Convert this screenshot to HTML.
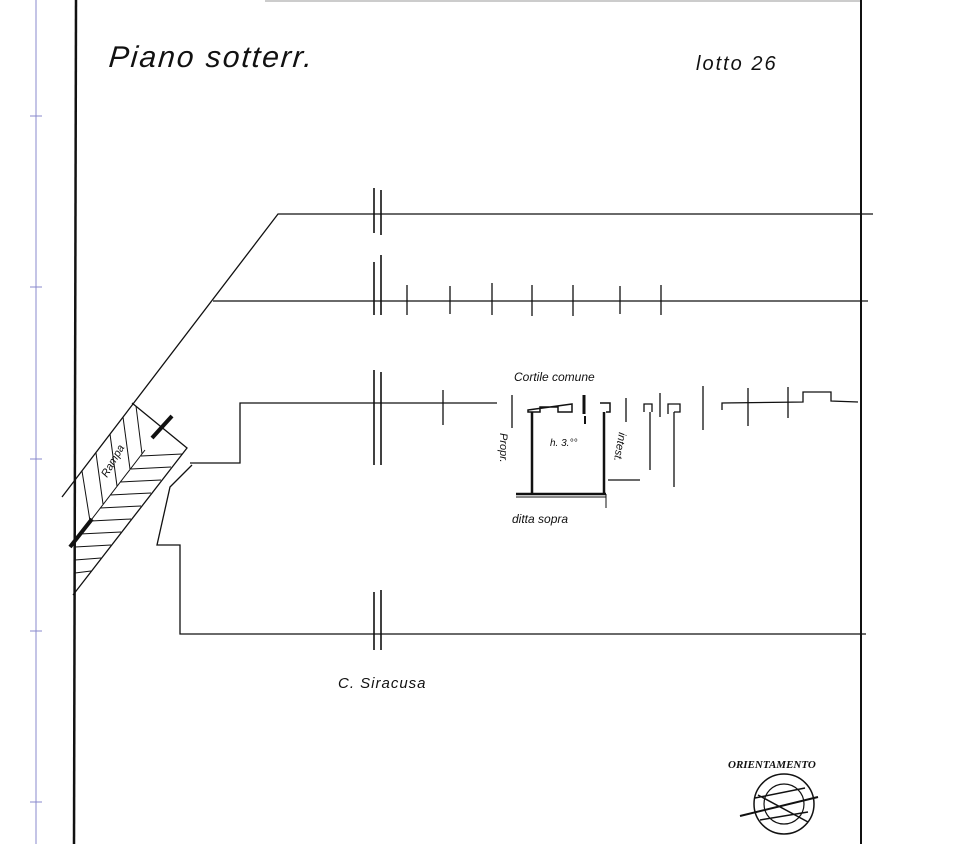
<!DOCTYPE html>
<html><head><meta charset="utf-8"><style>
html,body{margin:0;padding:0;background:#fff;}
svg{display:block;}
text{font-family:"Liberation Sans",sans-serif;font-style:italic;fill:#111;}
</style></head><body>
<svg width="957" height="844" viewBox="0 0 957 844" xmlns="http://www.w3.org/2000/svg">
<g stroke="#8888cc" stroke-width="1">
<line x1="36" y1="0" x2="36" y2="844"/>
<line x1="30" y1="116" x2="42" y2="116"/><line x1="30" y1="287" x2="42" y2="287"/>
<line x1="30" y1="459" x2="42" y2="459"/><line x1="30" y1="631" x2="42" y2="631"/>
<line x1="30" y1="802" x2="42" y2="802"/>
</g>
<g stroke="#111" fill="none">
<line x1="76" y1="0" x2="74" y2="844" stroke-width="2.5"/>
<line x1="861" y1="0" x2="861" y2="844" stroke-width="2"/>
<line x1="265" y1="1" x2="860" y2="1" stroke-width="1" stroke="#999"/>
<g stroke-width="1.3">
<polyline points="873,214 278,214 62,497"/>
<line x1="868" y1="301" x2="213" y2="301"/>
<polyline points="497,403 240,403 240,463 190,463"/>
<polyline points="866,634 180,634 180,545 157,545 170,487 192,465"/>
<polyline points="722,410 722,403 803,402 803,392 831,392 831,401 858,402"/>
<line x1="443" y1="390" x2="443" y2="425"/>
<line x1="748" y1="388" x2="748" y2="426"/>
<line x1="788" y1="387" x2="788" y2="418"/>
<line x1="512" y1="395" x2="512" y2="428"/>
<line x1="626" y1="398" x2="626" y2="422"/>
<line x1="660" y1="393" x2="660" y2="417"/>
<line x1="703" y1="386" x2="703" y2="430"/>
<line x1="650" y1="412" x2="650" y2="470"/>
<line x1="674" y1="412" x2="674" y2="487"/>
<polyline points="644,412 644,404 652,404 652,412" />
<polyline points="668,414 668,404 680,404 680,412 674,412"/>
<line x1="608" y1="480" x2="640" y2="480"/>
</g>
<g stroke-width="1.3">
<line x1="407" y1="285" x2="407" y2="315"/><line x1="450" y1="286" x2="450" y2="314"/>
<line x1="492" y1="283" x2="492" y2="315"/><line x1="532" y1="285" x2="532" y2="316"/>
<line x1="573" y1="285" x2="573" y2="316"/><line x1="620" y1="286" x2="620" y2="314"/>
<line x1="661" y1="285" x2="661" y2="315"/>
</g>
<g stroke-width="1.6">
<line x1="374" y1="188" x2="374" y2="233"/><line x1="381" y1="190" x2="381" y2="235"/>
<line x1="374" y1="262" x2="374" y2="315"/><line x1="381" y1="255" x2="381" y2="315"/>
<line x1="374" y1="370" x2="374" y2="465"/><line x1="381" y1="372" x2="381" y2="465"/>
<line x1="374" y1="592" x2="374" y2="650"/><line x1="381" y1="590" x2="381" y2="650"/>
</g>
<g stroke-width="2.5">
<polyline points="532,494 532,412"/><polyline points="604,494 604,412"/>
<line x1="516" y1="494" x2="606" y2="494"/>
</g>
<line x1="516" y1="497" x2="606" y2="497" stroke-width="1"/>
<line x1="606" y1="494" x2="606" y2="508" stroke-width="1"/>
<path d="M528,410 L572,404 L572,412 L558,412 L558,407 L540,407 L540,412 L528,412 Z" stroke-width="1.5"/>
<path d="M600,403 L610,403 L610,412 L606,412" stroke-width="1.5"/>
<line x1="584" y1="395" x2="584" y2="414" stroke-width="3"/>
<line x1="585" y1="416" x2="585" y2="424" stroke-width="2"/>
<g stroke-width="1.3">
<polyline points="132,403 187,448 73,595"/>
</g>
<g stroke-width="1">
<line x1="145" y1="450" x2="75" y2="541"/>
<line x1="82" y1="471" x2="90" y2="521"/><line x1="96" y1="453" x2="103" y2="504"/>
<line x1="110" y1="434" x2="117" y2="486"/><line x1="123" y1="417" x2="130" y2="469"/>
<line x1="136" y1="406" x2="142" y2="454"/>
<line x1="141" y1="456" x2="182" y2="454"/><line x1="131" y1="469" x2="171" y2="467"/>
<line x1="120" y1="482" x2="161" y2="480"/><line x1="110" y1="495" x2="151" y2="493"/>
<line x1="100" y1="508" x2="141" y2="506"/><line x1="91" y1="521" x2="131" y2="519"/>
<line x1="80" y1="534" x2="121" y2="532"/><line x1="75" y1="547" x2="111" y2="545"/>
<line x1="75" y1="560" x2="101" y2="558"/><line x1="75" y1="573" x2="91" y2="571"/>
</g>
<line x1="152" y1="438" x2="172" y2="416" stroke-width="4"/>
<line x1="70" y1="547" x2="92" y2="519" stroke-width="4"/>
<circle cx="784" cy="804" r="30" stroke-width="1.5"/>
<circle cx="784" cy="804" r="20" stroke-width="1.2"/>
<line x1="740" y1="816" x2="818" y2="797" stroke-width="2"/>
<line x1="755" y1="798" x2="805" y2="788" stroke-width="1.5"/>
<line x1="760" y1="820" x2="808" y2="812" stroke-width="1.5"/>
<line x1="758" y1="795" x2="808" y2="822" stroke-width="1.5"/>
</g>
<text x="114" y="67" font-size="30" letter-spacing="2" transform="skewX(-5)">Piano sotterr.</text>
<text x="696" y="70" font-size="20" letter-spacing="2">lotto 26</text>
<text x="514" y="381" font-size="12">Cortile comune</text>
<text x="550" y="446" font-size="10">h. 3.°°</text>
<text x="512" y="523" font-size="12">ditta sopra</text>
<text x="338" y="688" font-size="15" letter-spacing="1">C. Siracusa</text>
<text x="0" y="0" font-size="11" transform="translate(500,433) rotate(90)">Propr.</text>
<text x="0" y="0" font-size="11" transform="translate(619,432) rotate(100)">intest.</text>
<text x="0" y="0" font-size="11" transform="translate(107,478) rotate(-60)">Rampa</text>
<text x="728" y="768" font-size="11" font-weight="bold" style="font-family:'Liberation Serif',serif">ORIENTAMENTO</text>
</svg>
</body></html>
